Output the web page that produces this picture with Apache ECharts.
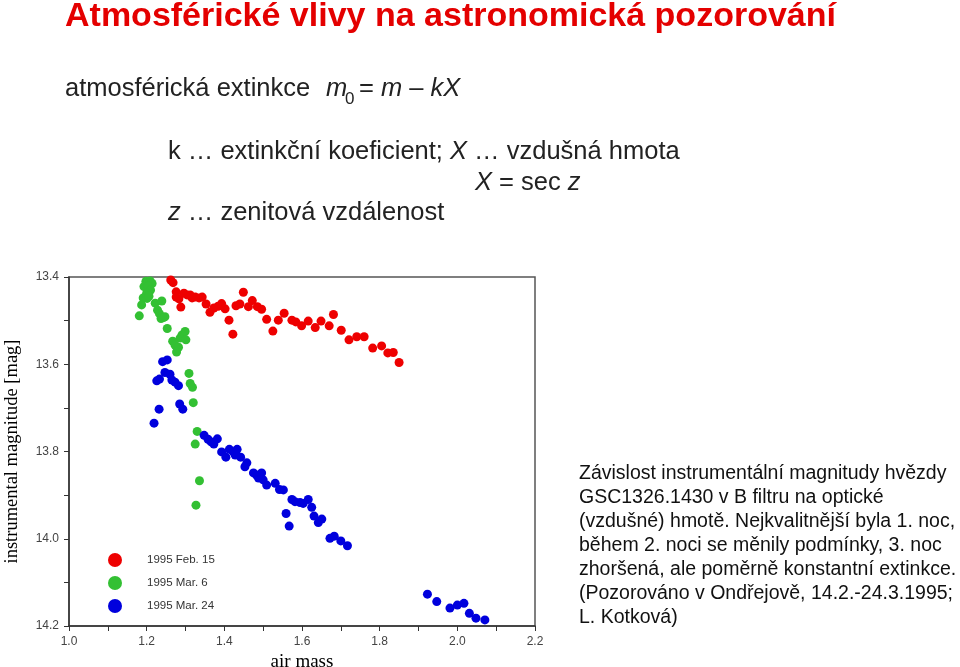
<!DOCTYPE html>
<html>
<head>
<meta charset="utf-8">
<script src="https://cdn.jsdelivr.net/npm/echarts@6/dist/echarts.min.js"></script>
<style>
html,body{margin:0;padding:0;background:#fff;}
#chart{width:960px;height:667px;}
</style>
</head>
<body>
<div id="chart"></div>
<script>
// Data (air mass, instrumental magnitude)
var seriesNames = ['1995 Feb. 15', '1995 Mar. 6', '1995 Mar. 24'];
var xTicks = [1.0, 1.2, 1.4, 1.6, 1.8, 2.0, 2.2];
var yTicks = [13.4, 13.6, 13.8, 14.0, 14.2];

var feb15 = [
  [1.262,13.407],[1.268,13.413],[1.276,13.434],[1.276,13.446],[1.283,13.450],[1.288,13.469],
  [1.296,13.437],[1.304,13.441],[1.312,13.441],[1.317,13.448],[1.325,13.446],[1.335,13.448],
  [1.343,13.446],[1.353,13.462],[1.363,13.481],[1.373,13.471],[1.384,13.467],[1.393,13.461],
  [1.402,13.473],[1.412,13.499],[1.422,13.531],[1.430,13.466],[1.440,13.462],[1.449,13.435],
  [1.462,13.468],[1.472,13.454],[1.485,13.468],[1.496,13.474],[1.509,13.497],[1.525,13.524],
  [1.539,13.499],[1.554,13.483],[1.574,13.499],[1.584,13.503],[1.599,13.512],[1.616,13.501],
  [1.634,13.516],[1.649,13.501],[1.670,13.512],[1.681,13.486],[1.701,13.522],[1.721,13.544],
  [1.741,13.537],[1.760,13.537],[1.782,13.563],[1.805,13.558],[1.821,13.574],[1.835,13.573],
  [1.850,13.596]
];
var mar6 = [
  [1.198,13.410],[1.209,13.409],[1.214,13.415],[1.193,13.422],[1.204,13.421],[1.210,13.430],
  [1.200,13.437],[1.191,13.448],[1.201,13.449],[1.206,13.444],[1.187,13.464],[1.181,13.489],
  [1.222,13.460],[1.239,13.455],[1.228,13.476],[1.233,13.484],[1.237,13.495],[1.243,13.493],
  [1.247,13.491],[1.253,13.518],[1.299,13.525],[1.291,13.533],[1.286,13.540],[1.301,13.544],
  [1.267,13.547],[1.273,13.556],[1.282,13.561],[1.277,13.572],[1.309,13.621],[1.312,13.644],
  [1.318,13.653],[1.320,13.688],[1.330,13.754],[1.325,13.783],[1.336,13.867],[1.327,13.923]
];
var mar24 = [
  [1.241,13.594],[1.253,13.590],[1.247,13.619],[1.260,13.623],[1.226,13.638],[1.233,13.634],
  [1.265,13.636],[1.273,13.641],[1.282,13.649],[1.285,13.691],[1.293,13.703],[1.232,13.703],
  [1.219,13.735],[1.348,13.763],[1.358,13.772],[1.366,13.778],[1.373,13.783],[1.382,13.771],
  [1.393,13.801],[1.404,13.813],[1.413,13.795],[1.423,13.801],[1.433,13.795],[1.428,13.808],
  [1.442,13.813],[1.458,13.826],[1.453,13.835],[1.475,13.849],[1.483,13.854],[1.496,13.849],
  [1.488,13.861],[1.500,13.865],[1.509,13.877],[1.531,13.873],[1.542,13.887],[1.552,13.888],
  [1.574,13.910],[1.582,13.915],[1.595,13.917],[1.603,13.919],[1.616,13.910],[1.625,13.928],
  [1.559,13.942],[1.567,13.971],[1.631,13.948],[1.642,13.963],[1.651,13.955],[1.672,13.999],
  [1.683,13.994],[1.700,14.005],[1.717,14.016],[1.923,14.127],[1.947,14.144],[1.981,14.159],
  [2.000,14.152],[2.017,14.148],[2.031,14.171],[2.048,14.182],[2.071,14.186]
];

var colors = ['#ee0000', '#33c033', '#0000dd'];

var chart = echarts.init(document.getElementById('chart'), null, {renderer: 'canvas'});

var bodyFont = 'Liberation Sans, Arial, sans-serif';
var serifFont = 'Liberation Serif, Times New Roman, serif';
var fs = 25.5;
var nf = fs + 'px ' + bodyFont;
var itf = 'italic ' + fs + 'px ' + bodyFont;

var option = {
  animation: false,
  backgroundColor: '#ffffff',
  grid: {
    left: 69, top: 277, width: 466, height: 349,
    containLabel: false, outerBoundsMode: 'none',
    show: true, borderColor: '#555', borderWidth: 1.5, backgroundColor: 'transparent'
  },
  legend: {
    orient: 'vertical',
    left: 103, top: 548,
    itemWidth: 14, itemHeight: 14, itemGap: 9,
    icon: 'circle',
    data: seriesNames,
    textStyle: {fontSize: 11.5, color: '#333', fontFamily: bodyFont, padding: [0, 0, 0, 20]},
    selectedMode: false
  },
  xAxis: {
    type: 'value',
    min: xTicks[0], max: xTicks[xTicks.length - 1], interval: 0.2,
    name: 'air mass', nameLocation: 'middle', nameGap: 26,
    nameTextStyle: {fontFamily: serifFont, fontSize: 19, color: '#000'},
    axisLine: {show: true, lineStyle: {color: '#333', width: 1.5}},
    axisTick: {show: true, length: 5, lineStyle: {color: '#333'}},
    minorTick: {show: true, splitNumber: 2, length: 5, lineStyle: {color: '#333'}},
    axisLabel: {fontSize: 12, color: '#444', fontFamily: bodyFont, margin: 10,
      formatter: function (v) { return v.toFixed(1); }},
    splitLine: {show: false}
  },
  yAxis: {
    type: 'value', inverse: true,
    min: yTicks[0], max: yTicks[yTicks.length - 1], interval: 0.2,
    name: 'instrumental magnitude [mag]', nameLocation: 'middle', nameGap: 47, nameRotate: 90,
    nameTextStyle: {fontFamily: serifFont, fontSize: 18.5, color: '#000'},
    axisLine: {show: true, lineStyle: {color: '#333', width: 1.5}},
    axisTick: {show: true, length: 5, lineStyle: {color: '#333'}},
    minorTick: {show: true, splitNumber: 2, length: 5, lineStyle: {color: '#333'}},
    axisLabel: {fontSize: 12, color: '#444', fontFamily: bodyFont, margin: 10,
      formatter: function (v) { return v.toFixed(1); }},
    splitLine: {show: false}
  },
  series: [
    {name: seriesNames[0], type: 'scatter', data: feb15, symbolSize: 9, itemStyle: {color: colors[0], opacity: 1}},
    {name: seriesNames[1], type: 'scatter', data: mar6, symbolSize: 9, itemStyle: {color: colors[1], opacity: 1}},
    {name: seriesNames[2], type: 'scatter', data: mar24, symbolSize: 9, itemStyle: {color: colors[2], opacity: 1}}
  ],
  graphic: [
    {type: 'text', left: 65, top: 0, z: 10, style: {
      text: 'Atmosférické vlivy na astronomická pozorování',
      font: 'bold 34px ' + bodyFont, fill: '#e40000',
      shadowColor: 'rgba(0,0,0,0.35)', shadowOffsetX: 2, shadowOffsetY: 2, shadowBlur: 2}},
    {type: 'text', left: 65, top: 76, z: 10, style: {
      text: 'atmosférická extinkce', font: nf, fill: '#222'}},
    {type: 'text', left: 326, top: 76, z: 10, style: {
      text: 'm', font: itf, fill: '#222'}},
    {type: 'text', left: 345, top: 91, z: 10, style: {
      text: '0', font: '17px ' + bodyFont, fill: '#222'}},
    {type: 'text', left: 359, top: 76, z: 10, style: {
      text: '= {i|m} – {i|kX}', font: nf, fill: '#222',
      rich: {i: {font: itf, fill: '#222'}}}},
    {type: 'text', left: 168, top: 139, z: 10, style: {
      text: 'k … extinkční koeficient; {i|X} … vzdušná hmota', font: nf, fill: '#222',
      rich: {i: {font: itf, fill: '#222'}}}},
    {type: 'text', left: 475, top: 170, z: 10, style: {
      text: '{i|X} = sec {i|z}', font: nf, fill: '#222',
      rich: {i: {font: itf, fill: '#222'}}}},
    {type: 'text', left: 168, top: 200, z: 10, style: {
      text: '{i|z} … zenitová vzdálenost', font: nf, fill: '#222',
      rich: {i: {font: itf, fill: '#222'}}}},
    {type: 'text', left: 579, top: 462, z: 10, style: {
      text: 'Závislost instrumentální magnitudy hvězdy\nGSC1326.1430 v B filtru na optické\n(vzdušné) hmotě. Nejkvalitnější byla 1. noc,\nběhem 2. noci se měnily podmínky, 3. noc\nzhoršená, ale poměrně konstantní extinkce.\n(Pozorováno v Ondřejově, 14.2.-24.3.1995;\nL. Kotková)',
      font: '19.5px ' + bodyFont, fill: '#111', lineHeight: 24}}
  ]
};
chart.setOption(option);
</script>
</body>
</html>
